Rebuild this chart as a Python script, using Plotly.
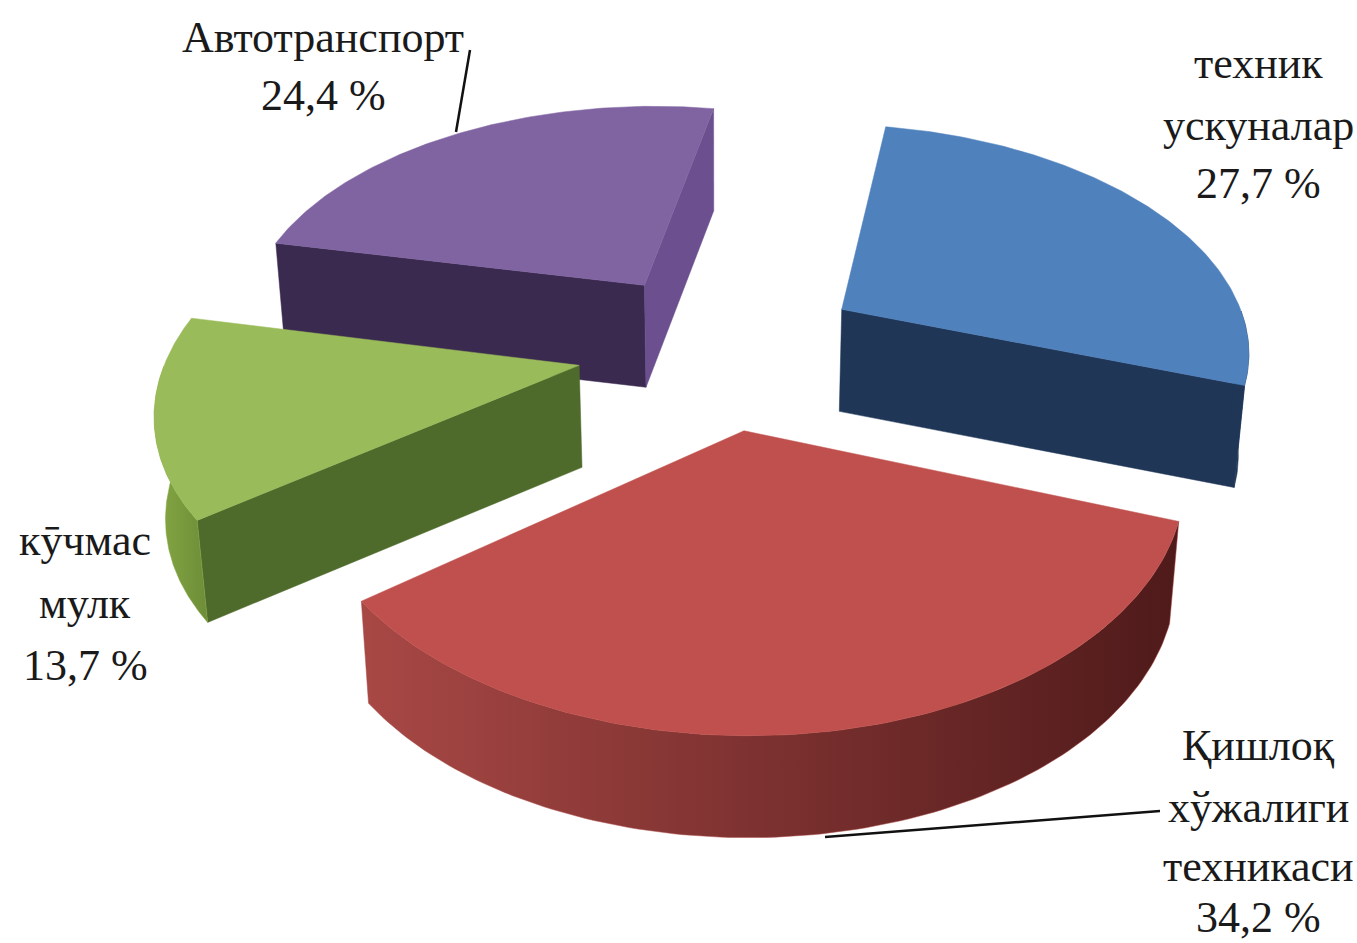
import numpy as np
import plotly.graph_objects as go

# Data
categories = ["техник<br>ускуналар", "Қишлоқ<br>хўжалиги<br>техникаси", "кӯчмас<br>мулк", "Автотранспорт"]
values = [27.7, 34.2, 13.7, 24.4]
value_labels = ["27,7 %", "34,2 %", "13,7 %", "24,4 %"]

# Projection settings (one unit = pie radius)
W, H = 1357, 943
CX, CY = 721, 348
SX, SY = 410, 226
PERSP = 0.16
EXPLODE = 0.35
START = 10.0
THICK = 102
SHRINK = 0.98

def proj(X, Y, z=0):
    X, Y = np.asarray(X, float), np.asarray(Y, float)
    s = 1 / (1 + PERSP * Y)
    x = CX + SX * X * s
    y = CY - SY * Y * s
    if z:
        x = CX + (x - CX) * SHRINK
        y = y + THICK
    return x, y

styles = [
    dict(top="#4f81bd", r1="#2a4a72", r2="#1f3657", arc=["#1f3657", "#1f3657"]),
    dict(top="#c0504d", r1="#6e2a28", r2="#6e2a28", arc=["#a84845", "#4f1a1a"]),
    dict(top="#9abb59", r1="#4f6b2c", r2="#6b4f8f", arc=["#86a843", "#6d8d38"]),
    dict(top="#8064a2", r1="#3b2a50", r2="#6b4f8f", arc=["#6b4f8f", "#3b2a50"]),
]
order = [3, 2, 0, 1]

fig = go.Figure()

def poly(x, y, color=None, grad=None):
    kw = dict(x=list(x) + [x[0]], y=list(y) + [y[0]], mode="lines", fill="toself",
              line=dict(width=0.5, color=color or grad[0]), hoverinfo="skip", showlegend=False)
    if grad:
        kw["fillgradient"] = dict(type="horizontal", colorscale=[[0, grad[0]], [1, grad[1]]])
    else:
        kw["fillcolor"] = color
    fig.add_trace(go.Scatter(**kw))

total = sum(values)
edges = np.radians(START + np.cumsum([0] + values) / total * 360)
for i in order:
    a0, a1 = edges[i], edges[i + 1]
    mid = (a0 + a1) / 2
    ax, ay = EXPLODE * np.sin(mid), EXPLODE * np.cos(mid)
    th = np.linspace(a0, a1, 120)
    X = ax + np.sin(th)
    Y = ay + np.cos(th)
    st = styles[i]
    tx, ty = proj(X, Y)
    bx, by = proj(X, Y, 1)
    apx, apy = proj([ax], [ay])
    abx, aby = proj([ax], [ay], 1)

    # radial side faces that face the viewer
    if np.sin(a0) < 0:
        poly([apx[0], tx[0], bx[0], abx[0]], [apy[0], ty[0], by[0], aby[0]], st["r1"])
    if np.sin(a1) > 0:
        poly([apx[0], tx[-1], bx[-1], abx[0]], [apy[0], ty[-1], by[-1], aby[0]], st["r2"])
    # visible part of the outer rim
    vis = np.cos(th) < 0
    if vis.any():
        poly(np.r_[tx[vis], bx[vis][::-1]], np.r_[ty[vis], by[vis][::-1]], grad=st["arc"])
    # top face
    poly(np.r_[apx, tx], np.r_[apy, ty], st["top"])

# leader lines
leader_x = [[456, 470], [825, 1160]]
leader_y = [[132, 50], [837, 811]]
for lx, ly in zip(leader_x, leader_y):
    fig.add_trace(go.Scatter(x=lx, y=ly, mode="lines", line=dict(color="#111111", width=2.5),
                             hoverinfo="skip", showlegend=False))

FONT = dict(family="Liberation Serif", size=44, color="#1a1a1a")
label_x = [1258, 1258, 85, 323]
label_y = [[63, 125, 183], [745, 807, 866, 917], [540, 603, 665], [37, 95]]
for i in range(4):
    lines = categories[i].split("<br>") + [value_labels[i]]
    for t, yy in zip(lines, label_y[i]):
        fig.add_annotation(x=label_x[i], y=yy, text=t, showarrow=False, xanchor="center",
                           yanchor="middle", font=FONT)

fig.update_layout(
    width=W, height=H, margin=dict(l=0, r=0, t=0, b=0),
    paper_bgcolor="white", plot_bgcolor="white", showlegend=False,
    xaxis=dict(range=[0, W], visible=False, fixedrange=True),
    yaxis=dict(range=[H, 0], visible=False, fixedrange=True),
)
fig.write_html("out.html", config=dict(displayModeBar=False),
               post_script="document.body.style.margin='0';")
